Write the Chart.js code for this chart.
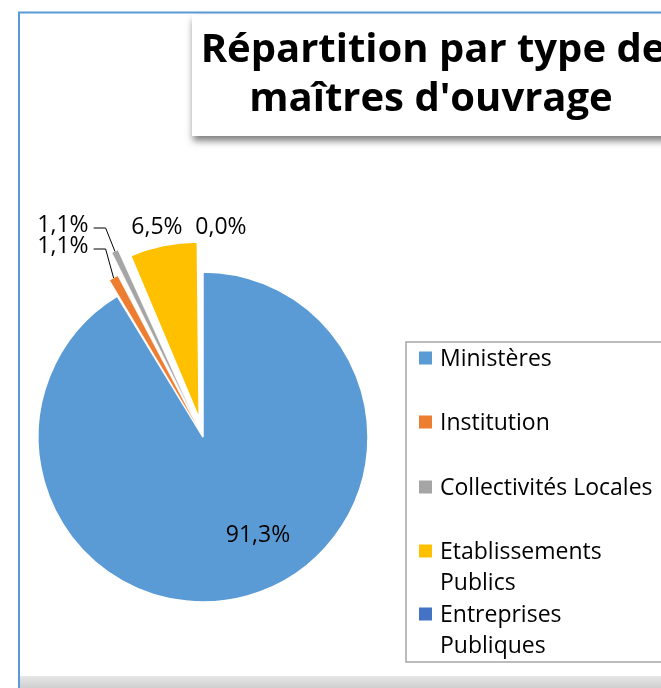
<!DOCTYPE html>
<html>
<head>
<meta charset="utf-8">
<title>Répartition par type de maîtres d'ouvrage</title>
<script src="https://cdn.jsdelivr.net/npm/chart.js@4.4.1/dist/chart.umd.min.js"></script>
<style>
    html, body { margin: 0; padding: 0; background: #fff; }
    #wrap { width: 661px; height: 688px; position: relative; }
</style>
</head>
<body>
<div id="wrap"><canvas id="chart" width="661" height="688"></canvas></div>
<script>
// Chart data
const titleLines = ['Répartition par type de', "maîtres d'ouvrage"];
const categories = ['Ministères', 'Institution', 'Collectivités Locales', 'Etablissements Publics', 'Entreprises Publiques'];
const shares = [91.3, 1.1, 1.1, 6.5, 0.0];

// Styling
const sliceColors = ['#5b9bd5', '#ed7d31', '#a5a5a5', '#ffc000', '#4472c4'];
const sliceOffsets = [0, 36, 84, 76, 0];       // exploded slices
const sliceBorders = [1.5, 0.5, 0.5, 1.5, 0];
const FONT = '"Open Sans", "DejaVu Sans", sans-serif';

// Label placement relative to the pie centre (Excel "best fit" look)
const labelShift = [[55, 97], [-140, -192], [-140, -213], [-46, -211], [18, -211]];
const labelLeader = [false, true, true, false, false];

// Legend layout
const legendBox = { left: 406, top: 342, right: 672, bottom: 662 };
const legendRowY = [358, 422, 487, 551, 614];
const legendLineHeight = 31;
const legendTextWidth = 218;

function formatPct(v) {
    return v.toFixed(1).replace('.', ',') + '%';
}

function wrapText(ctx, text, maxWidth) {
    const words = text.split(' ');
    const lines = [];
    let line = '';
    words.forEach(w => {
        const test = line ? line + ' ' + w : w;
        if (line && ctx.measureText(test).width > maxWidth) {
            lines.push(line);
            line = w;
        } else {
            line = test;
        }
    });
    if (line) lines.push(line);
    return lines;
}

// Frame, title box and legend drawn behind the pie
const decorPlugin = {
    id: 'decor',
    beforeDraw(chart) {
        const ctx = chart.ctx;
        ctx.save();
        ctx.fillStyle = '#fff';
        ctx.fillRect(0, 0, chart.width, chart.height);

        // bottom shadow band of the chart frame
        const grad = ctx.createLinearGradient(0, 676, 0, 688);
        grad.addColorStop(0, '#e6e6e6');
        grad.addColorStop(1, '#cfcfcf');
        ctx.fillStyle = grad;
        ctx.fillRect(20, 676, chart.width - 20, 12);

        // blue chart frame
        ctx.strokeStyle = '#5b9bd5';
        ctx.lineWidth = 2;
        ctx.beginPath();
        ctx.moveTo(19, 688);
        ctx.lineTo(19, 12.5);
        ctx.lineTo(chart.width, 12.5);
        ctx.stroke();

        // title box with drop shadow
        ctx.save();
        ctx.shadowColor = 'rgba(0, 0, 0, 0.5)';
        ctx.shadowBlur = 7;
        ctx.shadowOffsetX = 1;
        ctx.shadowOffsetY = 5;
        ctx.fillStyle = '#fff';
        ctx.fillRect(192, 15, 500, 121);
        ctx.restore();

        ctx.fillStyle = '#000';
        ctx.font = 'bold 40px ' + FONT;
        ctx.textAlign = 'center';
        ctx.textBaseline = 'alphabetic';
        ctx.fillText(titleLines[0], 433, 62);
        ctx.fillText(titleLines[1], 431, 111);

        // legend
        ctx.strokeStyle = '#a6a6a6';
        ctx.lineWidth = 1.5;
        ctx.strokeRect(legendBox.left, legendBox.top,
            legendBox.right - legendBox.left, legendBox.bottom - legendBox.top);

        ctx.font = '23px ' + FONT;
        ctx.textAlign = 'left';
        categories.forEach((name, i) => {
            const y = legendRowY[i];
            ctx.fillStyle = sliceColors[i];
            ctx.fillRect(419, y - 6.5, 13, 13);
            ctx.fillStyle = '#000';
            const lines = wrapText(ctx, name, legendTextWidth);
            lines.forEach((ln, k) => {
                ctx.fillText(ln, 440, y + 8 + k * legendLineHeight);
            });
        });
        ctx.restore();
    },

    // Percent labels and leader lines
    afterDatasetsDraw(chart) {
        const ctx = chart.ctx;
        const meta = chart.getDatasetMeta(0);
        ctx.save();
        ctx.font = '23px ' + FONT;
        ctx.fillStyle = '#000';
        ctx.textAlign = 'center';
        ctx.textBaseline = 'alphabetic';

        meta.data.forEach((arc, i) => {
            const p = arc.getProps(['x', 'y', 'startAngle', 'endAngle', 'outerRadius', 'circumference'], true);
            const text = formatPct(shares[i]);
            const cx = p.x + labelShift[i][0];
            const cy = p.y + labelShift[i][1];
            ctx.fillText(text, cx, cy + 8);

            if (labelLeader[i]) {
                const mid = (p.startAngle + p.endAngle) / 2;
                const off = (arc.options.offset || 0) / 4;
                const fix = 1 - Math.sin(Math.min(Math.PI, p.circumference || 0));
                const r = p.outerRadius + off * fix + off;
                const ex = p.x + Math.cos(mid) * r;
                const ey = p.y + Math.sin(mid) * r;
                const sx = cx + ctx.measureText(text).width / 2 + 5;
                const sy = cy + 4;
                ctx.strokeStyle = '#000';
                ctx.lineWidth = 1;
                ctx.beginPath();
                ctx.moveTo(sx, sy);
                ctx.lineTo(sx + 12, sy);
                ctx.lineTo(ex, ey);
                ctx.stroke();
            }
        });
        ctx.restore();
    }
};

const chart = new Chart(document.getElementById('chart'), {
    type: 'pie',
    data: {
        labels: categories,
        datasets: [{
            data: shares,
            backgroundColor: sliceColors,
            borderColor: '#fff',
            borderWidth: sliceBorders,
            offset: sliceOffsets,
            radius: 165
        }]
    },
    options: {
        responsive: false,
        animation: false,
        rotation: 0,
        layout: {
            padding: { left: 20, right: 275, top: 250, bottom: 64 }
        },
        plugins: {
            legend: { display: false },
            title: { display: false },
            tooltip: { enabled: false }
        }
    },
    plugins: [decorPlugin]
});
</script>
</body>
</html>
